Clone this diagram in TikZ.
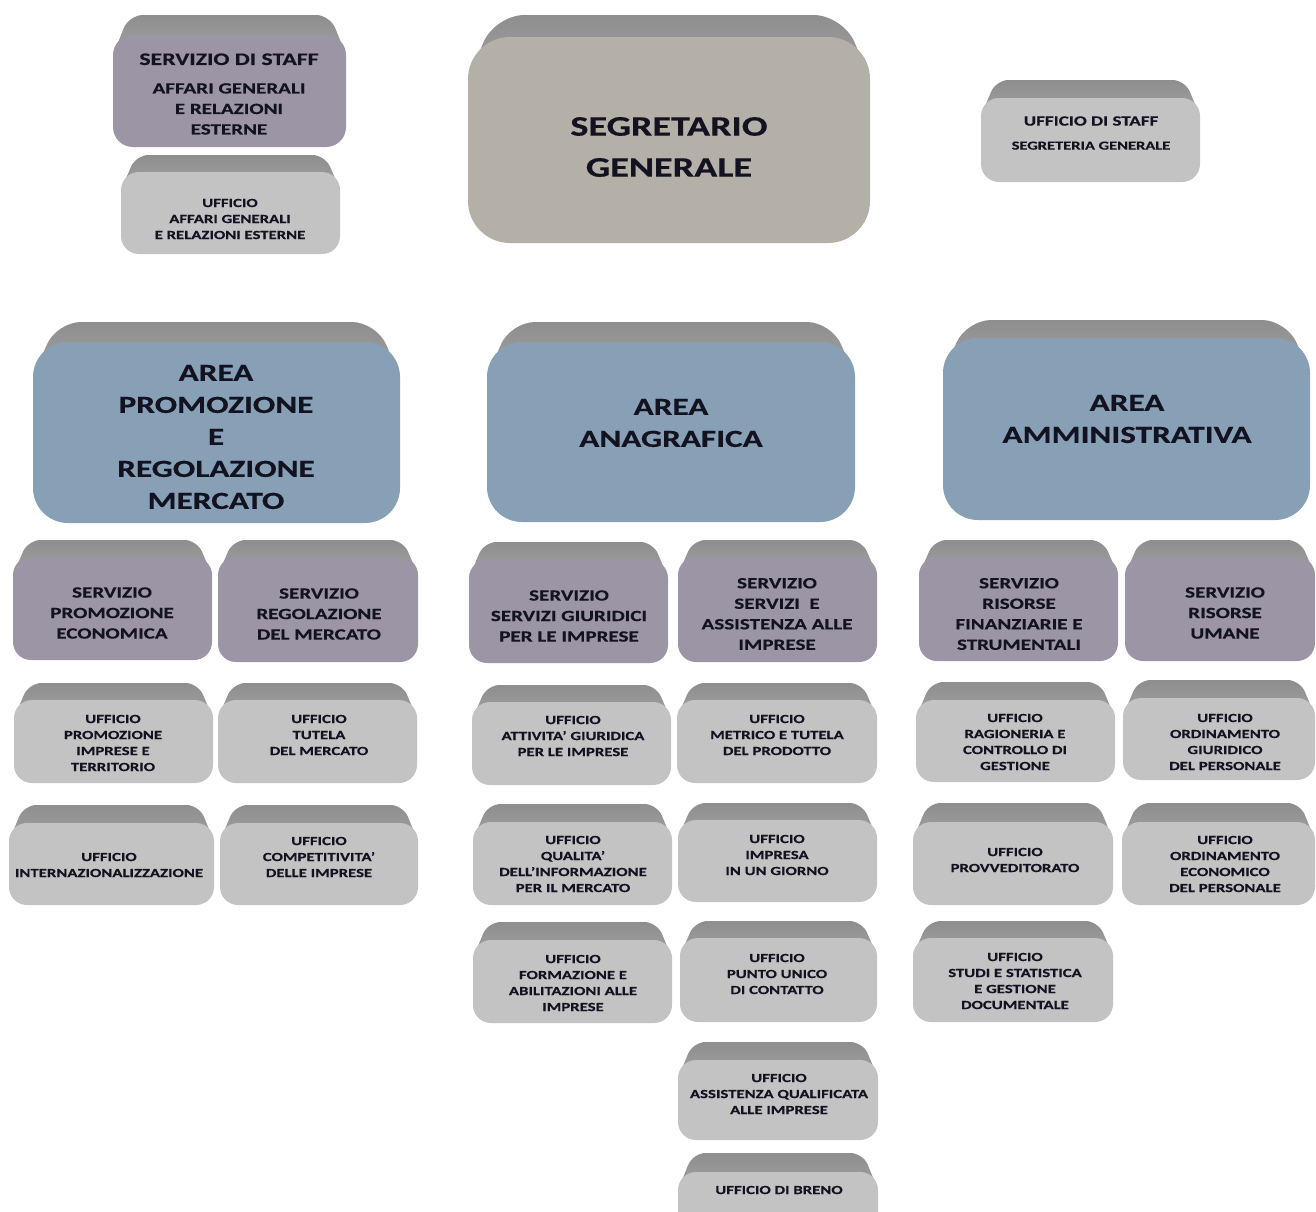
\documentclass[tikz,border=0pt]{standalone}
\usepackage{fontspec}
\newfontfamily\wfont{Carlito}[FakeStretch=1.35,FakeBold=0.4]
\definecolor{purpface}{HTML}{9C95A5}
\definecolor{grayface}{HTML}{C3C3C3}
\definecolor{warmface}{HTML}{B4AFA7}
\definecolor{blueface}{HTML}{88A0B5}
\definecolor{bandtop}{HTML}{8E8E8E}
\definecolor{bandbot}{HTML}{A2A2A2}
\definecolor{txt}{HTML}{121220}
% #1 colour prefix, #2 x1, #3 band top, #4 face top, #5 x2, #6 bottom, #7 radius
\newcommand\obox[7]{%
  \shade[top color=bandtop, bottom color=bandbot, rounded corners={#7*0.7pt}] (#2,{#4+#7}) -- ({#2+#7*0.5+6},#3) -- ({#5-#7*0.5-6},#3) -- (#5,{#4+#7}) -- cycle;
  \fill[#1face, rounded corners=#7pt] (#2,#4) rectangle (#5,#6);
}
\tikzset{
  lbl/.style={align=center, text=txt, inner sep=0pt},
  segr/.style={lbl, font=\wfont\bfseries\fontsize{28.3}{41}\selectfont},
  area/.style={lbl, font=\wfont\bfseries\fontsize{24.6}{32}\selectfont},
  serv/.style={lbl, font=\wfont\bfseries\fontsize{15.6}{20.5}\selectfont},
  uff/.style={lbl, font=\wfont\bfseries\fontsize{12.4}{16}\selectfont},
}
\begin{document}
\begin{tikzpicture}[x=1pt,y=-1pt]
\clip (0,0) rectangle (1316,1211);
\fill[white] (0,0) rectangle (1316,1211);
% top
\obox{purp}{113}{15}{35}{346}{147}{20}
\obox{gray}{121}{155}{172}{340}{254}{18}
\obox{warm}{468}{15}{37}{870}{243}{42}
\obox{gray}{981}{80}{98}{1200}{182}{18}
% areas
\obox{blue}{33}{322}{342}{400}{523}{35}
\obox{blue}{487}{322}{342}{855}{522}{35}
\obox{blue}{943}{320}{338}{1310}{520}{35}
% servizi
\obox{purp}{13}{540}{557}{212}{660}{18}
\obox{purp}{218}{540}{557}{418}{662}{18}
\obox{purp}{469}{542}{560}{668}{663}{18}
\obox{purp}{678}{540}{557}{877}{662}{18}
\obox{purp}{919}{540}{557}{1118}{661}{18}
\obox{purp}{1125}{540}{557}{1315}{661}{18}
% uffici row 1
\obox{gray}{14}{683}{700}{213}{783}{18}
\obox{gray}{218}{683}{700}{417}{783}{18}
\obox{gray}{472}{685}{702}{671}{785}{18}
\obox{gray}{677}{683}{700}{877}{783}{18}
\obox{gray}{916}{682}{700}{1115}{782}{18}
\obox{gray}{1123}{680}{698}{1315}{780}{18}
% row 2
\obox{gray}{9}{805}{823}{214}{905}{18}
\obox{gray}{220}{805}{823}{418}{905}{18}
\obox{gray}{473}{804}{822}{672}{905}{18}
\obox{gray}{678}{803}{820}{877}{902}{18}
\obox{gray}{913}{803}{822}{1113}{905}{18}
\obox{gray}{1122}{803}{822}{1315}{905}{18}
% row 3
\obox{gray}{473}{922}{940}{672}{1023}{18}
\obox{gray}{680}{921}{938}{877}{1022}{18}
\obox{gray}{913}{921}{938}{1113}{1022}{18}
% row 4
\obox{gray}{678}{1042}{1060}{878}{1140}{18}
\obox{gray}{678}{1153}{1172}{878}{1240}{18}

% texts
\node[serv] (sstaff) at (229,94) {{\fontsize{17.6}{20.5}\selectfont SERVIZIO DI STAFF}\\[8pt]AFFARI GENERALI\\E RELAZIONI\\ESTERNE};
\node[uff] (uaffari) at (230,219) {UFFICIO\\AFFARI GENERALI\\E RELAZIONI ESTERNE};
\node[segr] (segr) at (669,147) {SEGRETARIO\\GENERALE};
\node[lbl, font=\wfont\bfseries\fontsize{14.1}{16}\selectfont] (ustaff) at (1091,133) {UFFICIO DI STAFF\\[8pt]{\fontsize{12.2}{14}\selectfont SEGRETERIA GENERALE}};

\node[area] (apromo) at (216,437) {AREA\\PROMOZIONE\\E\\REGOLAZIONE\\MERCATO};
\node[area] (aanag) at (671,423) {AREA\\ANAGRAFICA};
\node[area] (aamm) at (1127,419) {AREA\\AMMINISTRATIVA};

\node[serv] (spromo) at (112,613) {SERVIZIO\\PROMOZIONE\\ECONOMICA};
\node[serv] (sregol) at (319,614) {SERVIZIO\\REGOLAZIONE\\DEL MERCATO};
\node[serv] (sgiur) at (569,616) {SERVIZIO\\SERVIZI GIURIDICI\\PER LE IMPRESE};
\node[serv] (sserv) at (777,614) {SERVIZIO\\SERVIZI\ \ E\\ASSISTENZA ALLE\\IMPRESE};
\node[serv] (srisfin) at (1019,614) {SERVIZIO\\RISORSE\\FINANZIARIE E\\STRUMENTALI};
\node[serv] (srisum) at (1225,613) {SERVIZIO\\RISORSE\\UMANE};

\node[uff] (upromimp) at (113,743) {UFFICIO\\PROMOZIONE\\IMPRESE E\\TERRITORIO};
\node[uff] (ututela) at (319,735) {UFFICIO\\TUTELA\\DEL MERCATO};
\node[uff] (uattiv) at (573,736) {UFFICIO\\ATTIVITA’ GIURIDICA\\PER LE IMPRESE};
\node[uff] (umetrico) at (777,735) {UFFICIO\\METRICO E TUTELA\\DEL PRODOTTO};
\node[uff] (uragion) at (1015,742) {UFFICIO\\RAGIONERIA E\\CONTROLLO DI\\GESTIONE};
\node[uff] (uordgiur) at (1225,742) {UFFICIO\\ORDINAMENTO\\GIURIDICO\\DEL PERSONALE};

\node[uff] (uinternaz) at (109,865) {UFFICIO\\INTERNAZIONALIZZAZIONE};
\node[uff] (ucompet) at (319,857) {UFFICIO\\COMPETITIVITA’\\DELLE IMPRESE};
\node[uff] (uqualita) at (573,864) {UFFICIO\\QUALITA’\\DELL’INFORMAZIONE\\PER IL MERCATO};
\node[uff] (uimpresa) at (777,855) {UFFICIO\\IMPRESA\\IN UN GIORNO};
\node[uff] (uprovved) at (1015,860) {UFFICIO\\PROVVEDITORATO};
\node[uff] (uordecon) at (1225,864) {UFFICIO\\ORDINAMENTO\\ECONOMICO\\DEL PERSONALE};

\node[uff] (uformaz) at (573,983) {UFFICIO\\FORMAZIONE E\\ABILITAZIONI ALLE\\IMPRESE};
\node[uff] (upunto) at (777,974) {UFFICIO\\PUNTO UNICO\\DI CONTATTO};
\node[uff] (ustudi) at (1015,981) {UFFICIO\\STUDI E STATISTICA\\E GESTIONE\\DOCUMENTALE};

\node[uff] (uassist) at (779,1094) {UFFICIO\\ASSISTENZA QUALIFICATA\\ALLE IMPRESE};
\node[uff] (ubreno) at (779,1190) {UFFICIO DI BRENO};
\end{tikzpicture}
\end{document}
